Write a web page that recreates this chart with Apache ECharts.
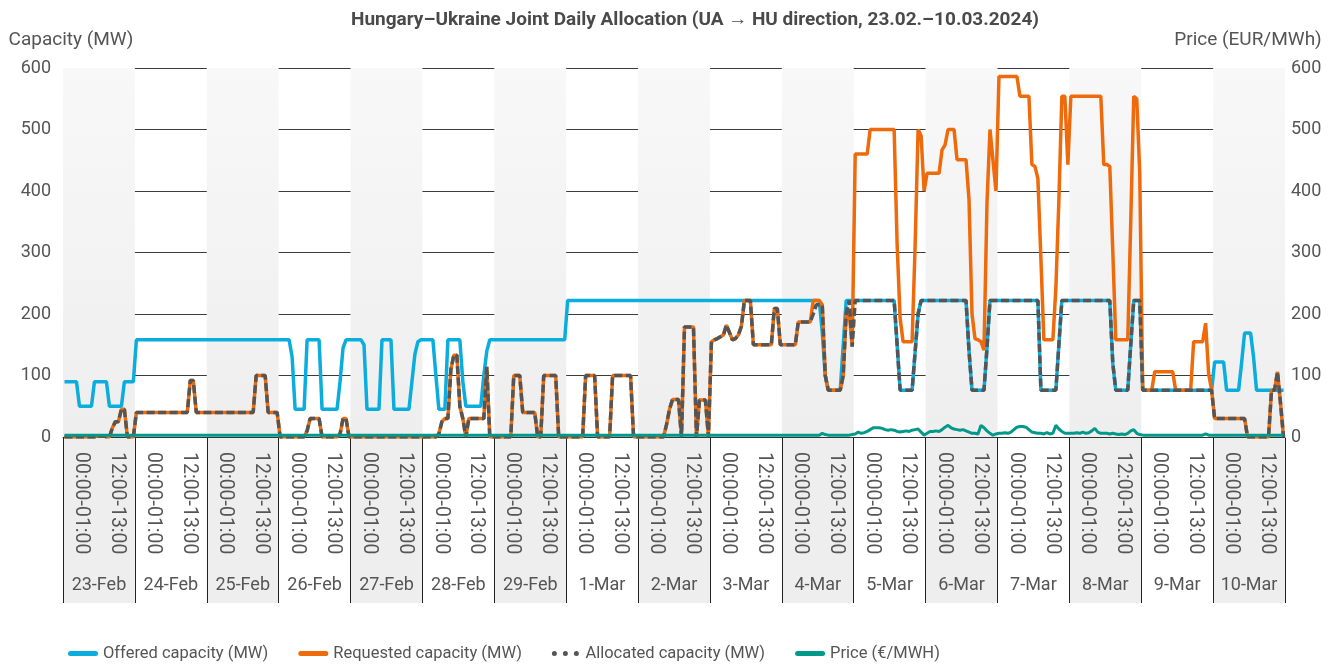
<!DOCTYPE html>
<html>
<head>
<meta charset="utf-8">
<title>Hungary-Ukraine Joint Daily Allocation</title>
<script src="https://cdn.jsdelivr.net/npm/echarts@6/dist/echarts.min.js"></script>
<style>
html, body { margin: 0; padding: 0; background: #fff; }
#chart { width: 1337px; height: 664px; }
</style>
</head>
<body>
<div id="chart"></div>
<script>
// days of the auction period
const days = ['23-Feb', '24-Feb', '25-Feb', '26-Feb', '27-Feb', '28-Feb', '29-Feb', '1-Mar', '2-Mar',
    '3-Mar', '4-Mar', '5-Mar', '6-Mar', '7-Mar', '8-Mar', '9-Mar', '10-Mar']
const halfDayLabels = ['00:00-01:00', '12:00-13:00']
const yTicks = [0, 100, 200, 300, 400, 500, 600]

// hourly values, one row per day (24 h)
const offered = [
    90, 90, 90, 90, 90, 50, 50, 50, 50, 50, 90, 90, 90, 90, 90, 50, 50, 50, 50, 50, 90, 90, 90, 90,
    158, 158, 158, 158, 158, 158, 158, 158, 158, 158, 158, 158, 158, 158, 158, 158, 158, 158, 158, 158, 158, 158, 158, 158,
    158, 158, 158, 158, 158, 158, 158, 158, 158, 158, 158, 158, 158, 158, 158, 158, 158, 158, 158, 158, 158, 158, 158, 158,
    158, 158, 158, 158, 130, 45, 45, 45, 45, 158, 158, 158, 158, 158, 45, 45, 45, 45, 45, 45, 90, 145, 158, 158,
    158, 158, 158, 158, 150, 45, 45, 45, 45, 45, 158, 158, 158, 158, 45, 45, 45, 45, 45, 45, 90, 135, 155, 158,
    158, 158, 158, 158, 100, 45, 45, 45, 158, 158, 158, 158, 158, 90, 50, 50, 50, 50, 50, 50, 100, 140, 158, 158,
    158, 158, 158, 158, 158, 158, 158, 158, 158, 158, 158, 158, 158, 158, 158, 158, 158, 158, 158, 158, 158, 158, 158, 158,
    222, 222, 222, 222, 222, 222, 222, 222, 222, 222, 222, 222, 222, 222, 222, 222, 222, 222, 222, 222, 222, 222, 222, 222,
    222, 222, 222, 222, 222, 222, 222, 222, 222, 222, 222, 222, 222, 222, 222, 222, 222, 222, 222, 222, 222, 222, 222, 222,
    222, 222, 222, 222, 222, 222, 222, 222, 222, 222, 222, 222, 222, 222, 222, 222, 222, 222, 222, 222, 222, 222, 222, 222,
    222, 222, 222, 222, 222, 222, 222, 222, 222, 222, 222, 222, 222, 170, 100, 76, 76, 76, 76, 76, 150, 222, 222, 222,
    222, 222, 222, 222, 222, 222, 222, 222, 222, 222, 222, 222, 222, 222, 150, 76, 76, 76, 76, 76, 138, 200, 222, 222,
    222, 222, 222, 222, 222, 222, 222, 222, 222, 222, 222, 222, 222, 222, 140, 76, 76, 76, 76, 76, 145, 222, 222, 222,
    222, 222, 222, 222, 222, 222, 222, 222, 222, 222, 222, 222, 222, 222, 76, 76, 76, 76, 76, 76, 150, 222, 222, 222,
    222, 222, 222, 222, 222, 222, 222, 222, 222, 222, 222, 222, 222, 222, 120, 76, 76, 76, 76, 76, 150, 222, 222, 222,
    76, 76, 76, 76, 76, 76, 76, 76, 76, 76, 76, 76, 76, 76, 76, 76, 76, 76, 76, 76, 76, 76, 76, 76,
    122, 122, 122, 122, 76, 76, 76, 76, 76, 120, 169, 169, 169, 130, 76, 76, 76, 76, 76, 76, 76, 76, 76, 76
]

const requested = [
    0, 0, 0, 0, 0, 0, 0, 0, 0, 0, 0, 2, 2, 2, 0, 0, 15, 25, 25, 45, 45, 0, 0, 0,
    40, 40, 40, 40, 40, 40, 40, 40, 40, 40, 40, 40, 40, 40, 40, 40, 40, 40, 92, 92, 40, 40, 40, 40,
    40, 40, 40, 40, 40, 40, 40, 40, 40, 40, 40, 40, 40, 40, 40, 40, 100, 100, 100, 100, 40, 40, 40, 40,
    0, 0, 0, 0, 0, 0, 0, 0, 0, 10, 30, 30, 30, 30, 0, 0, 0, 0, 0, 0, 5, 30, 30, 0,
    0, 0, 0, 0, 0, 0, 0, 0, 0, 0, 0, 0, 0, 0, 0, 0, 0, 0, 0, 0, 0, 0, 0, 0,
    0, 0, 0, 0, 0, 5, 25, 30, 30, 110, 133, 133, 50, 30, 0, 30, 30, 30, 30, 30, 30, 114, 0, 0,
    0, 0, 0, 0, 0, 0, 100, 100, 100, 40, 40, 40, 40, 40, 0, 0, 100, 100, 100, 100, 100, 0, 0, 0,
    0, 0, 0, 0, 0, 0, 100, 100, 100, 100, 0, 0, 0, 0, 0, 100, 100, 100, 100, 100, 100, 100, 0, 0,
    0, 0, 0, 0, 0, 0, 0, 0, 0, 20, 45, 61, 61, 61, 0, 179, 179, 179, 179, 0, 60, 60, 60, 0,
    155, 158, 160, 163, 166, 182, 170, 158, 160, 166, 180, 222, 222, 222, 150, 150, 150, 150, 150, 150, 150, 209, 209, 150,
    150, 150, 150, 150, 150, 187, 187, 187, 187, 187, 222, 222, 222, 215, 100, 76, 76, 76, 76, 76, 100, 201, 201, 147,
    460, 460, 460, 460, 460, 500, 500, 500, 500, 500, 500, 500, 500, 500, 313, 193, 155, 155, 155, 155, 310, 500, 490, 400,
    429, 429, 429, 429, 429, 467, 475, 500, 500, 500, 451, 451, 451, 451, 386, 200, 160, 158, 155, 141, 380, 500, 450, 400,
    586, 586, 586, 586, 586, 586, 586, 554, 554, 554, 554, 443, 440, 420, 290, 158, 158, 158, 158, 242, 385, 554, 554, 443,
    554, 554, 554, 554, 554, 554, 554, 554, 554, 554, 554, 443, 443, 440, 303, 158, 158, 158, 158, 158, 350, 554, 550, 430,
    76, 76, 76, 76, 106, 106, 106, 106, 106, 106, 106, 76, 76, 76, 76, 76, 76, 155, 155, 155, 155, 185, 103, 76,
    30, 30, 30, 30, 30, 30, 30, 30, 30, 30, 30, 0, 0, 0, 0, 0, 0, 0, 0, 76, 76, 106, 55, 0
]

const allocated = [
    0, 0, 0, 0, 0, 0, 0, 0, 0, 0, 0, 2, 2, 2, 0, 0, 15, 25, 25, 45, 45, 0, 0, 0,
    40, 40, 40, 40, 40, 40, 40, 40, 40, 40, 40, 40, 40, 40, 40, 40, 40, 40, 92, 92, 40, 40, 40, 40,
    40, 40, 40, 40, 40, 40, 40, 40, 40, 40, 40, 40, 40, 40, 40, 40, 100, 100, 100, 100, 40, 40, 40, 40,
    0, 0, 0, 0, 0, 0, 0, 0, 0, 10, 30, 30, 30, 30, 0, 0, 0, 0, 0, 0, 5, 30, 30, 0,
    0, 0, 0, 0, 0, 0, 0, 0, 0, 0, 0, 0, 0, 0, 0, 0, 0, 0, 0, 0, 0, 0, 0, 0,
    0, 0, 0, 0, 0, 5, 25, 30, 30, 110, 133, 133, 50, 30, 0, 30, 30, 30, 30, 30, 30, 114, 0, 0,
    0, 0, 0, 0, 0, 0, 100, 100, 100, 40, 40, 40, 40, 40, 0, 0, 100, 100, 100, 100, 100, 0, 0, 0,
    0, 0, 0, 0, 0, 0, 100, 100, 100, 100, 0, 0, 0, 0, 0, 100, 100, 100, 100, 100, 100, 100, 0, 0,
    0, 0, 0, 0, 0, 0, 0, 0, 0, 20, 45, 61, 61, 61, 0, 179, 179, 179, 179, 0, 60, 60, 60, 0,
    155, 158, 160, 163, 166, 182, 170, 158, 160, 166, 180, 222, 222, 222, 150, 150, 150, 150, 150, 150, 150, 209, 209, 150,
    150, 150, 150, 150, 150, 187, 187, 187, 187, 187, 200, 215, 215, 215, 100, 76, 76, 76, 76, 76, 100, 201, 222, 147,
    222, 222, 222, 222, 222, 222, 222, 222, 222, 222, 222, 222, 222, 222, 150, 76, 76, 76, 76, 76, 138, 200, 222, 222,
    222, 222, 222, 222, 222, 222, 222, 222, 222, 222, 222, 222, 222, 222, 140, 76, 76, 76, 76, 76, 145, 222, 222, 222,
    222, 222, 222, 222, 222, 222, 222, 222, 222, 222, 222, 222, 222, 222, 76, 76, 76, 76, 76, 76, 150, 222, 222, 222,
    222, 222, 222, 222, 222, 222, 222, 222, 222, 222, 222, 222, 222, 222, 120, 76, 76, 76, 76, 76, 150, 222, 222, 222,
    76, 76, 76, 76, 76, 76, 76, 76, 76, 76, 76, 76, 76, 76, 76, 76, 76, 76, 76, 76, 76, 76, 76, 76,
    30, 30, 30, 30, 30, 30, 30, 30, 30, 30, 30, 0, 0, 0, 0, 0, 0, 0, 0, 76, 76, 106, 55, 0
]

const price = [
    3, 3, 3, 3, 3, 3, 3, 3, 3, 3, 3, 3, 3, 3, 3, 3, 3, 3, 3, 3, 3, 3, 3, 3,
    3, 3, 3, 3, 3, 3, 3, 3, 3, 3, 3, 3, 3, 3, 3, 3, 3, 3, 3, 3, 3, 3, 3, 3,
    3, 3, 3, 3, 3, 3, 3, 3, 3, 3, 3, 3, 3, 3, 3, 3, 3, 3, 3, 3, 3, 3, 3, 3,
    3, 3, 3, 3, 3, 3, 3, 3, 3, 3, 3, 3, 3, 3, 3, 3, 3, 3, 3, 3, 3, 3, 3, 3,
    3, 3, 3, 3, 3, 3, 3, 3, 3, 3, 3, 3, 3, 3, 3, 3, 3, 3, 3, 3, 3, 3, 3, 3,
    3, 3, 3, 3, 3, 3, 3, 3, 3, 3, 3, 3, 3, 3, 3, 3, 3, 3, 3, 3, 3, 3, 3, 3,
    3, 3, 3, 3, 3, 3, 3, 3, 3, 3, 3, 3, 3, 3, 3, 3, 3, 3, 3, 3, 3, 3, 3, 3,
    3, 3, 3, 3, 3, 3, 3, 3, 3, 3, 3, 3, 3, 3, 3, 3, 3, 3, 3, 3, 3, 3, 3, 3,
    3, 3, 3, 3, 3, 3, 3, 3, 3, 3, 3, 3, 3, 3, 3, 3, 3, 3, 3, 3, 3, 3, 3, 3,
    3, 3, 3, 3, 3, 3, 3, 3, 3, 3, 3, 3, 3, 3, 3, 3, 3, 3, 3, 3, 3, 3, 3, 3,
    3, 3, 3, 3, 3, 3, 3, 3, 3, 3, 3, 3, 3, 6, 4, 3, 3, 3, 3, 3, 3, 3, 3, 4,
    5, 8, 6, 7, 9, 12, 15, 15, 15, 14, 12, 11, 12, 11, 9, 8, 9, 10, 9, 11, 12, 13, 8, 3,
    6, 9, 9, 10, 9, 12, 16, 19, 15, 13, 12, 11, 12, 10, 8, 6, 6, 5, 19, 15, 10, 6, 3, 5,
    6, 6, 7, 6, 8, 12, 16, 17, 17, 16, 12, 8, 7, 6, 6, 5, 7, 5, 6, 19, 13, 9, 6, 6,
    6, 6, 7, 6, 8, 6, 7, 10, 14, 8, 6, 6, 6, 5, 6, 5, 4, 5, 4, 6, 10, 12, 6, 4,
    3, 3, 3, 3, 3, 3, 3, 3, 3, 3, 3, 3, 3, 3, 3, 3, 3, 3, 3, 3, 3, 5, 3, 3,
    3, 3, 3, 3, 3, 3, 3, 3, 3, 3, 3, 3, 3, 3, 3, 3, 3, 3, 3, 3, 3, 3, 3, 3
]

const FONT = 'Roboto, "Noto Sans", sans-serif'
const TEXT = '#555555'

// one category per hour, and one per half day for the rotated labels
const pad = n => String(n).padStart(2, '0')
const hourCats = []
days.forEach(d => {
    for (let h = 0; h < 24; h++) hourCats.push(d + ' ' + pad(h) + ':00-' + pad(h + 1) + ':00')
})
const halfDayCats = []
days.forEach(d => halfDayLabels.forEach(l => halfDayCats.push(d + '|' + l)))

const bandGrey = new echarts.graphic.LinearGradient(0, 0, 0, 1, [
    { offset: 0, color: '#f8f8f8' },
    { offset: 1, color: '#eeeeee' }
])
const barIcon = 'path://M2.5,0H27.5A2.5,2.5 0 0 1 27.5,5H2.5A2.5,2.5 0 0 1 2.5,0Z'
const dotIcon = 'path://M0,2.5a2.5,2.5 0 1,0 5,0a2.5,2.5 0 1,0 -5,0Z M11,2.5a2.5,2.5 0 1,0 5,0a2.5,2.5 0 1,0 -5,0Z M22,2.5a2.5,2.5 0 1,0 5,0a2.5,2.5 0 1,0 -5,0Z'

const chart = echarts.init(document.getElementById('chart'))

chart.setOption({
    animation: false,
    textStyle: { fontFamily: FONT },
    title: {
        text: 'Hungary\u2013Ukraine Joint Daily Allocation (UA \u2192 HU direction, 23.02.\u201310.03.2024)',
        left: 690,
        textAlign: 'center',
        top: 6,
        textStyle: { fontFamily: FONT, fontSize: 19, fontWeight: 'bold', color: '#4a4a4a' }
    },
    legend: {
        left: 63,
        top: 640,
        itemWidth: 30,
        itemHeight: 5,
        itemGap: 30,
        textStyle: { fontFamily: FONT, fontSize: 16.5, color: TEXT },
        data: [
            { name: 'Offered capacity (MW)', icon: barIcon },
            { name: 'Requested capacity (MW)', icon: barIcon },
            { name: 'Allocated capacity (MW)', icon: dotIcon },
            { name: 'Price (\u20ac/MWH)', icon: barIcon }
        ]
    },
    grid: [
        { left: 63, right: 52, top: 68, height: 369 },
        { left: 63, right: 52, top: 438, height: 165 }
    ],
    xAxis: [{
        // hourly axis carrying the data
        type: 'category',
        gridIndex: 0,
        data: hourCats,
        boundaryGap: true,
        axisLine: { show: true, lineStyle: { color: '#333', width: 1 } },
        axisTick: { show: false },
        axisLabel: { show: false },
        splitLine: { show: false }
    }, {
        // day bands in the plot area
        type: 'category',
        gridIndex: 0,
        position: 'top',
        data: days,
        axisLine: { show: false },
        axisTick: { show: false },
        axisLabel: { show: false, interval: 0 },
        splitLine: { show: false },
        splitArea: { show: true, interval: 0, areaStyle: { color: [bandGrey, 'rgba(255,255,255,0)'] } }
    }, {
        // day cells under the plot
        type: 'category',
        gridIndex: 1,
        position: 'bottom',
        data: days,
        axisLine: { show: false },
        axisTick: { show: false },
        axisLabel: { inside: true, interval: 0, margin: 9, fontSize: 18, color: TEXT, fontFamily: FONT },
        splitLine: { show: true, interval: 0, lineStyle: { color: '#222', width: 1 } },
        splitArea: { show: true, interval: 0, areaStyle: { color: ['#eeeeee', '#ffffff'] } }
    }, {
        // rotated hour labels
        type: 'category',
        gridIndex: 1,
        position: 'top',
        data: halfDayCats,
        axisLine: { show: false },
        axisTick: { show: false },
        splitLine: { show: false },
        axisLabel: {
            inside: true,
            rotate: 90,
            margin: 14,
            interval: 0,
            fontSize: 19.5,
            color: TEXT,
            fontFamily: FONT,
            formatter: v => v.split('|')[1]
        }
    }],
    yAxis: [{
        type: 'value',
        gridIndex: 0,
        min: yTicks[0],
        max: yTicks[yTicks.length - 1],
        interval: 100,
        name: 'Capacity (MW)',
        nameGap: 18,
        nameTextStyle: { fontSize: 19, color: TEXT, fontFamily: FONT, align: 'center', padding: [0, 0, 0, 16] },
        axisLine: { show: false },
        axisTick: { show: false },
        axisLabel: { fontSize: 18, color: TEXT, margin: 12, fontFamily: FONT },
        splitLine: { lineStyle: { color: '#3c3c3c', width: 1 } }
    }, {
        type: 'value',
        gridIndex: 0,
        position: 'right',
        min: yTicks[0],
        max: yTicks[yTicks.length - 1],
        interval: 100,
        name: 'Price (EUR/MWh)',
        nameGap: 18,
        nameTextStyle: { fontSize: 19, color: TEXT, fontFamily: FONT, align: 'center', padding: [0, 74, 0, 0] },
        axisLine: { show: false },
        axisTick: { show: false },
        axisLabel: { fontSize: 18, color: TEXT, margin: 6, fontFamily: FONT },
        splitLine: { show: false }
    }, {
        type: 'value',
        gridIndex: 1,
        show: false
    }],
    series: [{
        name: 'Offered capacity (MW)',
        type: 'line',
        xAxisIndex: 0,
        yAxisIndex: 0,
        data: offered,
        symbol: 'none',
        itemStyle: { color: '#0aaddd' },
        lineStyle: { color: '#0aaddd', width: 3.5 }
    }, {
        name: 'Requested capacity (MW)',
        type: 'line',
        xAxisIndex: 0,
        yAxisIndex: 0,
        data: requested,
        symbol: 'none',
        itemStyle: { color: '#ef6a0b' },
        lineStyle: { color: '#ef6a0b', width: 3.5 }
    }, {
        name: 'Allocated capacity (MW)',
        type: 'line',
        xAxisIndex: 0,
        yAxisIndex: 0,
        data: allocated,
        symbol: 'none',
        itemStyle: { color: '#555555' },
        lineStyle: { color: '#555555', width: 3.5, type: [8, 3.5] }
    }, {
        name: 'Price (\u20ac/MWH)',
        type: 'line',
        xAxisIndex: 0,
        yAxisIndex: 1,
        data: price,
        symbol: 'none',
        itemStyle: { color: '#00998a' },
        lineStyle: { color: '#00998a', width: 3 }
    }]
})
</script>
</body>
</html>
